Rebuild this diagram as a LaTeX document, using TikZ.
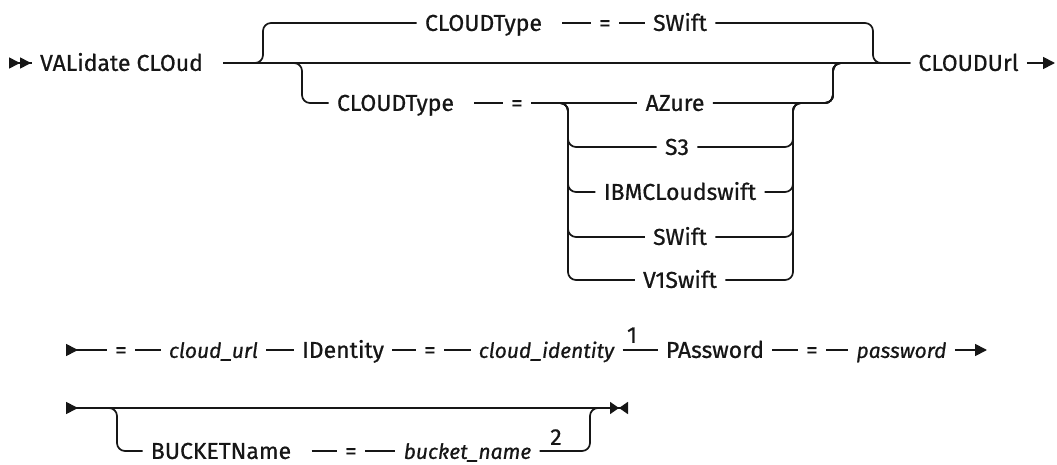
\documentclass[tikz,border=0pt]{standalone}
\usepackage{fontspec}
\setmainfont{Fira Sans}[UprightFeatures={FakeBold=0.7}, ItalicFeatures={FakeBold=0.7}]
\usetikzlibrary{arrows.meta}
\definecolor{ink}{HTML}{161616}

\begin{document}
\begin{tikzpicture}[
  x=1pt, y=-1pt,
  color=ink, line width=1.7pt,
  kw/.style={font=\fontsize{23}{27}\selectfont, text=ink, inner xsep=7.5pt,
    inner ysep=0pt, text height=15.8pt, text depth=0pt},
  var/.style={kw, font=\fontsize{21}{25}\selectfont\itshape},
  fnote/.style={kw, inner xsep=0pt},
  rc/.style={rounded corners=8pt},
  wide/.style={shorten <=12pt},
  rowbegin/.style={{Triangle[reversed,length=11pt,width=11pt]Triangle[reversed,length=11pt,width=11pt]}-},
  rowcont/.style={{Triangle[reversed,length=12pt,width=12pt]}-},
  rowmore/.style={-{Triangle[length=12pt,width=12pt]}},
  rowlast/.style={{Triangle[reversed,length=12pt,width=12pt]}-{Triangle[length=9pt,width=12pt]Triangle[reversed,length=9pt,width=12pt]}},
]
\useasboundingbox (0,0) rectangle (1057,465);

% =============================================
% Row 1: VALidate CLOud ... CLOUDUrl
% =============================================
\coordinate (st1) at (9,63);
\coordinate (j1) at (263,63);
\coordinate (j3) at (302,63);
\coordinate (j4) at (833,63);
\coordinate (j2) at (873,63);
\coordinate (e1) at (1055,63);

\node[kw] (vc) at (121.5,63) {VALidate CLOud};
\node[kw] (ud) at (968.5,63) {CLOUDUrl};

\draw[rowbegin] (st1) -- (vc.west);
\draw[wide] (vc.east) -- (ud.west);
\draw[rowmore] (ud) -- (e1);

% default above the line
\node[kw] (ct1) at (483.5,23) {CLOUDType};
\node[kw] (eq1) at (605,23) {=};
\node[kw] (sw1) at (680,23) {SWift};

\draw[rc, wide] (vc.east) -- (j1) |- (ct1.west);
\draw[wide] (ct1) -- (eq1);
\draw (eq1) -- (sw1);
\draw[rc] (sw1.east) -| (j2) -- (ud.west);

% choices below the line
\node[kw] (ct2) at (395.5,103) {CLOUDType};
\node[kw] (eq2) at (517,103) {=};

\node[kw] (az) at (675,103) {AZure};
\node[kw] (sthree) at (677,147) {S3};
\node[kw] (ibm) at (680,192) {IBMCLoudswift};
\node[kw] (sw2) at (680,237) {SWift};
\node[kw] (v1) at (680,280) {V1Swift};

\coordinate (lb) at (568,103);
\coordinate (rb) at (793,103);

\draw[rc, wide] (vc.east) -- (j3) |- (ct2.west);
\draw[wide] (ct2) -- (eq2);
\draw (eq2) -- (az);
\draw[rc] (az.east) -| (j4) -- (ud.west);
\foreach \c in {sthree, ibm, sw2, v1} {
  \draw[rc] (eq2.east) -- (lb) |- (\c.west);
  \draw[rc] (\c.east) -| (rb) -| (j4) -- (ud.west);
}

% =============================================
% Row 2: = cloud_url IDentity ... password
% =============================================
\coordinate (st2) at (66,350);
\coordinate (e2) at (987,350);

\node[kw] (eq3) at (121,350) {=};
\node[var] (url) at (213.5,350) {cloud\_url};
\node[kw] (idt) at (343,350) {IDentity};
\node[kw] (eq4) at (430,350) {=};
\node[var] (cid) at (546.5,350) {cloud\_identity};
\node[fnote] (n1) at (632,335) {1};
\node[kw] (pw) at (715,350) {PAssword};
\node[kw] (eq5) at (812,350) {=};
\node[var] (pwd) at (901.5,350) {password};

\draw[rowcont] (st2) -- (eq3);
\foreach \a/\b in {eq3/url, url/idt, idt/eq4, eq4/cid, cid/pw, pw/eq5, eq5/pwd}
  \draw (\a) -- (\b);
\draw[rowmore] (pwd) -- (e2);

% =============================================
% Row 3: optional BUCKETName
% =============================================
\coordinate (st3) at (66,408);
\coordinate (j6) at (117,408);
\coordinate (j7) at (590,408);
\coordinate (e3) at (628,408);

\node[kw] (bn) at (221,451) {BUCKETName};
\node[kw] (eq6) at (351,451) {=};
\node[var] (bkt) at (467.5,451) {bucket\_name};
\node[fnote] (n2) at (556,437) {2};

\draw[rowlast] (st3) -- (e3);
\draw[rc] (st3) -- (j6) |- (bn.west);
\draw[wide] (bn) -- (eq6);
\draw (eq6) -- (bkt);
\draw[rc, shorten >=18pt] (bkt.east) -| (j7) -- (e3);

\end{tikzpicture}
\end{document}
